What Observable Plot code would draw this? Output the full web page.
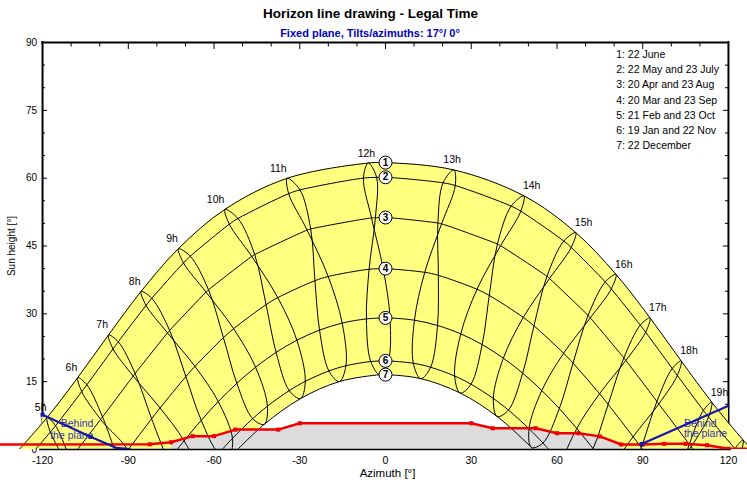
<!DOCTYPE html>
<html><head><meta charset="utf-8">
<script src="https://cdn.jsdelivr.net/npm/d3@7"></script>
<script src="https://cdn.jsdelivr.net/npm/@observablehq/plot@0.6"></script>
<style>body{margin:0;background:#fff}</style>
</head><body><div id="chart"></div>
<script>
// ---- Texts ----
const title = "Horizon line drawing - Legal Time";
const subtitle = "Fixed plane, Tilts/azimuths: 17°/ 0°";
const legendLines = ["1: 22 June", "2: 22 May and 23 July", "3: 20 Apr and 23 Aug", "4: 20 Mar and 23 Sep",
  "5: 21 Feb and 23 Oct", "6: 19 Jan and 22 Nov", "7: 22 December"];
const curveNumbers = ["1", "2", "3", "4", "5", "6", "7"];
const hourLabels = ["5h","6h","7h","8h","9h","10h","11h","12h","13h","14h","15h","16h","17h","18h","19h"];
const xTickLabels = [-120, -90, -60, -30, 0, 30, 60, 90, 120];
const xMinorTicks = [-110, -100, -80, -70, -50, -40, -20, -10, 10, 20, 40, 50, 70, 80, 100, 110];
const yTickLabels = [0, 15, 30, 45, 60, 75, 90];
const yMinorTicks = [5, 10, 20, 25, 35, 40, 50, 55, 65, 70, 80, 85];

// ---- Sun positions [azimuth, height] for legal hours 5h..20h (null = not drawn) ----
const jun22 = [[-118.42,7.06],[-107.67,15.92],[-96.92,25.33],[-85.53,34.95],[-72.48,44.40],[-56.20,53.09],[-34.40,59.97],[-6.04,63.34],[23.93,61.82],[48.42,56.09],[66.58,47.96],[80.66,38.72],[92.56,29.11],[103.47,19.58],[114.15,10.46],[125.15,2.09]];
const may22 = [[-115.45,5.26],[-104.50,14.31],[-93.51,23.82],[-81.77,33.43],[-68.30,42.73],[-51.62,51.08],[-29.94,57.40],[-3.11,60.17],[24.41,58.37],[47.34,52.69],[64.97,44.68],[79.00,35.52],[91.02,25.94],[102.11,16.37],[113.02,7.19],[124.30,-1.26]];
const jul23 = [[-117.27,3.85],[-106.28,12.79],[-95.33,22.25],[-83.78,31.87],[-70.68,41.26],[-54.64,49.82],[-33.88,56.57],[-7.72,60.02],[20.14,58.97],[43.98,53.82],[62.38,46.09],[76.88,37.06],[89.14,27.51],[100.33,17.92],[111.22,8.65],[122.41,0.06]];
const apr20 = [[-110.42,-2.11],[-99.01,7.20],[-87.61,16.81],[-75.54,26.33],[-61.93,35.31],[-45.77,43.09],[-26.18,48.77],[-3.53,51.25],[19.63,49.90],[40.28,45.07],[57.40,37.80],[71.66,29.11],[84.10,19.70],[95.62,10.07],[106.96,0.63],null];
const aug23 = [[-111.10,-2.64],[-99.67,6.65],[-88.29,16.25],[-76.28,25.79],[-62.79,34.81],[-46.80,42.69],[-27.42,48.52],[-4.90,51.21],[18.33,50.08],[39.17,45.43],[56.49,38.28],[70.89,29.64],[83.40,20.26],[94.96,10.63],[106.30,1.17],null];
const mar20 = [null,[-93.37,-2.83],[-81.84,6.79],[-69.85,16.13],[-56.71,24.73],[-41.79,32.03],[-24.69,37.32],[-5.74,39.86],[13.73,39.18],[32.02,35.43],[48.21,29.21],[62.32,21.29],[74.90,12.33],[86.63,2.83],[98.16,-6.79],null];
const sep23 = [null,[-90.48,-0.40],[-78.89,9.18],[-66.67,18.38],[-53.15,26.71],[-37.70,33.58],[-20.06,38.25],[-0.82,40.00],[18.50,38.51],[36.31,34.07],[51.94,27.35],[65.61,19.11],[77.91,9.97],[89.52,0.40],[101.11,-9.18],null];
const feb21 = [null,null,[-76.11,-2.61],[-64.48,6.45],[-52.02,14.64],[-38.28,21.48],[-23.08,26.40],[-6.68,28.88],[10.13,28.59],[26.34,25.57],[41.24,20.20],[54.69,13.04],[66.93,4.64],[78.45,-4.56],null,null];
const oct23 = [null,null,[-70.48,1.91],[-58.51,10.60],[-45.46,18.19],[-31.01,24.16],[-15.15,27.95],[1.57,29.09],[18.20,27.43],[33.82,23.20],[48.00,16.88],[60.81,9.05],[72.64,0.20],[84.00,-9.22],null,null];
const jan19 = [null,null,null,[-58.32,-0.82],[-46.49,6.81],[-33.68,13.02],[-19.82,17.36],[-5.17,19.45],[9.72,19.07],[24.18,16.25],[37.72,11.29],[50.21,4.60],[61.78,-3.38],null,null,null];
const nov22 = [null,null,[-64.90,-5.79],[-53.53,2.48],[-41.32,9.58],[-28.07,15.07],[-13.84,18.52],[0.99,19.59],[15.78,18.19],[29.90,14.44],[43.01,8.71],[55.09,1.44],[66.38,-6.97],null,null,null];
const dec22 = [null,null,null,[-54.17,-1.62],[-42.43,5.57],[-29.76,11.25],[-16.17,15.02],[-1.96,16.54],[12.33,15.67],[26.13,12.49],[39.07,7.29],[51.05,0.47],[62.24,-7.57],null,null,null];

// noon height and sunrise/sunset azimuth of each date curve 1..7
const noonHeight = [63.44, 60.2, 51.3, 40.0, 29.1, 19.6, 16.56];
const sunsetAz = [128.2, 122.5, 107.75, 90, 72.9, 57.16, 51.76];

// ---- Horizon (red) ----
const horizonAz = [-82.5,-75,-67.5,-60,-52.5,-37.5,-30,30,37.5,52.5,60,67.5,75,82.5,90,97.5,105,112.5,120];
const horizonH  = [1.15,1.6,2.95,2.95,4.4,4.4,5.8,5.8,4.7,4.7,3.6,3.6,2.9,1.1,1.1,1.25,1.25,0.95,0.15];
const horizonEdge = [[-180,1.05],[180,0.1]];
// ---- Behind the plane (blue) ----
const planeLeft = [[-120,7.7],[-103.2,2.8],[-94.1,0.35],[-89.5,0.1]];
const planeRight = [[89.6,1.2],[120,9.7]];
const planeLeftMarks = [[-120,7.7],[-103.2,2.8]];
const planeRightMarks = [[89.6,1.2]];
const planeNoteLeft = [{az:-102.2, h:2.4}];
const planeNoteRight = [{az:104.4, h:2.7}];
const planeNoteText = "Behind\nthe plane";

// ---- build ----
const yellow = "#ffff80", red = "#f00000", blue = "#1616a8";
const X = d => d[0], Y = d => d[1];
const pxX = 686 / 240, pxY = 407 / 90; // pixels per degree (for tick lengths)
const branchesByCurve = [[jun22],[may22,jul23],[apr20,aug23],[mar20,sep23],[feb21,oct23],[jan19,nov22],[dec22]];
const dateCurves = branchesByCurve.map((bs, i) => {
  const pts = bs.flat().filter(p => p && p[1] >= 0);
  pts.push([-sunsetAz[i], 0], [sunsetAz[i], 0], [0, noonHeight[i]]);
  return pts.sort((a, b) => a[0] - b[0]);
});
const loopOrder = [dec22, jan19, feb21, mar20, apr20, may22, jun22, jul23, aug23, sep23, oct23, nov22];
const hourMarks = [];
for (let i = 0; i < jun22.length; i++) {
  const pts = loopOrder.map(b => b[i]).filter(p => p);
  const below = pts.findIndex(p => p[1] < 0);
  let seq, curve;
  if (below < 0) { seq = pts; curve = "catmull-rom-closed"; }
  else { seq = [...pts.slice(below), ...pts.slice(0, below), pts[below]]; curve = "catmull-rom"; }
  hourMarks.push(Plot.line(seq, {x: X, y: Y, curve, stroke: "black", strokeWidth: 1, clip: true}));
}
const hourLabelData = hourLabels.map((t, i) => ({t, k: i + 5, p: jun22[i]}));
const horizonPts = horizonAz.map((a, i) => [a, horizonH[i]]);
const horizonLine = [horizonEdge[0], ...horizonPts, horizonEdge[1]];
const horizonGray = horizonPts.filter(p => p[0] >= -75 && p[0] <= 82.5);
const markers = noonHeight.map((h, i) => ({h, n: curveNumbers[i]}));
const font = "'Liberation Sans', Arial, sans-serif";

const chart = Plot.plot({
  width: 747, height: 484,
  marginLeft: 0, marginRight: 0, marginTop: 42, marginBottom: 35,
  x: {domain: [-134.71, 126.66], axis: null},
  y: {domain: [0, 90], axis: null},
  style: {fontFamily: font, background: "white", color: "black"},
  marks: [
    // axis labels & titles
    Plot.text(yTickLabels, {x: -120, y: d => d, text: d => String(d), dx: -5.5, textAnchor: "end", lineAnchor: "middle", fontSize: 10}),
    Plot.text(xTickLabels, {x: d => d, y: 0, text: d => String(d), dy: 14, lineAnchor: "bottom", textAnchor: "middle", fontSize: 10.5}),
    Plot.text(["Azimuth [°]"], {frameAnchor: "bottom-left", dx: 387, dy: 27.5, textAnchor: "middle", lineAnchor: "bottom", fontSize: 11.5}),
    Plot.text(["Sun height [°]"], {frameAnchor: "left", dx: 11, rotate: -90, textAnchor: "middle", lineAnchor: "middle", fontSize: 10}),
    Plot.text([title], {frameAnchor: "top-left", dx: 370, dy: -24.5, textAnchor: "middle", lineAnchor: "bottom", fontSize: 13.5, fontWeight: "bold"}),
    Plot.text([subtitle], {frameAnchor: "top-left", dx: 369.5, dy: -5.3, textAnchor: "middle", lineAnchor: "bottom", fontSize: 11, fontWeight: "bold", fill: "#0000c0"}),
    // hour labels
    Plot.text(hourLabelData.filter(d => d.k < 12), {x: d => d.p[0], y: d => d.p[1], text: "t", textAnchor: "end", lineAnchor: "bottom", dx: -0.5, dy: -6.5, fontSize: 10.5}),
    Plot.text(hourLabelData.filter(d => d.k === 12 || d.k === 13), {x: d => d.p[0], y: d => d.p[1], text: "t", textAnchor: "middle", lineAnchor: "bottom", dx: -1.8, dy: -6.5, fontSize: 10.5}),
    Plot.text(hourLabelData.filter(d => d.k > 13), {x: d => d.p[0], y: d => d.p[1], text: "t", textAnchor: "start", lineAnchor: "bottom", dx: -1, dy: -6.5, fontSize: 10.5}),
    // ticks (inside the frame)
    Plot.ruleX(xTickLabels, {x: d => d, y1: 90, y2: 90 - 7 / pxY, stroke: "black"}),
    Plot.ruleX(xMinorTicks, {x: d => d, y1: 90, y2: 90 - 4.5 / pxY, stroke: "black"}),
    Plot.ruleY(yTickLabels, {y: d => d, x1: -120, x2: -120 + 5 / pxX, stroke: "black"}),
    Plot.ruleY(yMinorTicks, {y: d => d, x1: -120, x2: -120 + 3 / pxX, stroke: "black"}),
    Plot.ruleY(yTickLabels, {y: d => d, x1: 120, x2: 120 - 5 / pxX, stroke: "black"}),
    Plot.ruleY(yMinorTicks, {y: d => d, x1: 120, x2: 120 - 3 / pxX, stroke: "black"}),
    // frame
    Plot.ruleX([-120, 120], {x: d => d, y1: 0, y2: 90, stroke: "black", strokeWidth: 2, strokeLinecap: "square"}),
    Plot.ruleY([90], {y: d => d, x1: -120, x2: 120, stroke: "black", strokeWidth: 2, strokeLinecap: "square"}),
    // sun band
    Plot.areaY(dateCurves[0], {x: X, y1: 0, y2: Y, fill: yellow, curve: "catmull-rom", clip: true}),
    Plot.areaY(planeLeft, {x: X, y1: 0, y2: Y, fill: yellow, clip: true}),
    Plot.areaY(planeRight, {x: X, y1: 0, y2: Y, fill: yellow, clip: true}),
    Plot.areaY(dateCurves[6], {x: X, y1: 0, y2: Y, fill: "white", curve: "catmull-rom", clip: true}),
    // horizon shading
    Plot.areaY(horizonGray, {x: X, y1: 0, y2: Y, fill: "#dcdcdc", clip: true}),
    Plot.ruleY([0], {y: d => d, x1: -121, x2: 121, stroke: "black", strokeWidth: 1.5}),
    // date curves and hour lines
    ...dateCurves.map(c => Plot.line(c, {x: X, y: Y, curve: "catmull-rom", stroke: "black", strokeWidth: 1, clip: true})),
    ...hourMarks,
    // horizon line
    Plot.line(horizonLine, {x: X, y: Y, stroke: red, strokeWidth: 2.5, clip: true}),
    Plot.dot(horizonPts, {x: X, y: Y, symbol: "square", r: 2.3, fill: red, clip: true}),
    // behind the plane
    Plot.text(planeNoteLeft, {x: "az", y: "h", text: () => planeNoteText, textAnchor: "end", lineAnchor: "bottom", lineHeight: 1.08, fontSize: 10.5, fill: "#3333b0"}),
    Plot.text(planeNoteRight, {x: "az", y: "h", text: () => planeNoteText, textAnchor: "start", lineAnchor: "bottom", lineHeight: 1.0, fontSize: 10.5, fill: "#3333b0"}),
    Plot.line(planeLeft, {x: X, y: Y, stroke: blue, strokeWidth: 2.2, clip: true}),
    Plot.line(planeRight, {x: X, y: Y, stroke: blue, strokeWidth: 2.2, clip: true}),
    Plot.dot([...planeLeftMarks, ...planeRightMarks], {x: X, y: Y, symbol: "square", r: 2.3, fill: blue}),
    // date curve markers
    Plot.dot(markers, {x: 0, y: "h", r: 6.5, fill: "white", stroke: "black", strokeWidth: 1}),
    Plot.text(markers, {x: 0, y: "h", text: "n", fontSize: 10, fontWeight: "bold", lineAnchor: "middle", textAnchor: "middle"}),
    // legend
    Plot.text([legendLines.join("\n")], {frameAnchor: "top-left", dx: 615.7, dy: 106.3, textAnchor: "start", lineAnchor: "bottom", lineHeight: 1.438, fontSize: 10.5})
  ]
});
document.getElementById("chart").append(chart);
</script></body></html>
